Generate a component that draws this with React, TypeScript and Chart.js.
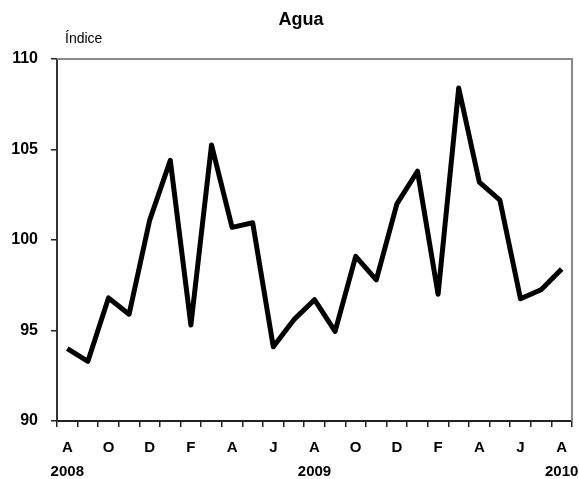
import React, { useEffect, useRef } from "react";
import { Chart, registerables } from "chart.js";

Chart.register(...registerables);

const categories = [
  "A", "S", "O", "N", "D", "E", "F", "M", "A", "M", "J", "J", "A",
  "S", "O", "N", "D", "E", "F", "M", "A", "M", "J", "J", "A",
];
const shownLabels = [0, 2, 4, 6, 8, 10, 12, 14, 16, 18, 20, 22, 24];
const yearLabels: Record<number, string> = { 0: "2008", 12: "2009", 24: "2010" };
const values = [
  94.0, 93.3, 96.8, 95.9, 101.1, 104.4, 95.3, 105.25, 100.7, 100.95, 94.1, 95.6, 96.7,
  94.95, 99.1, 97.8, 102.0, 103.8, 97.0, 108.4, 103.2, 102.2, 96.75, 97.25, 98.4,
];
const titleText = "Agua";
const unitText = "Índice";

const FONT = "'Liberation Sans Narrow', 'Liberation Sans', Arial, sans-serif";

const decorPlugin = {
  id: "decor",
  beforeDatasetsDraw(chart: any) {
    const { ctx, chartArea } = chart;
    ctx.save();
    ctx.strokeStyle = "#8a8a8a";
    ctx.lineWidth = 2;
    ctx.beginPath();
    ctx.moveTo(chartArea.left, chartArea.top);
    ctx.lineTo(chartArea.right, chartArea.top);
    ctx.lineTo(chartArea.right, chartArea.bottom);
    ctx.stroke();
    ctx.restore();
  },
  afterDraw(chart: any) {
    const { ctx } = chart;
    ctx.save();
    ctx.fillStyle = "#000";
    ctx.textBaseline = "middle";
    ctx.textAlign = "center";
    ctx.font = `bold 18px ${FONT}`;
    ctx.fillText(titleText, 301, 20);
    ctx.textAlign = "left";
    ctx.font = `14px ${FONT}`;
    ctx.fillText(unitText, 65, 39);
    ctx.restore();
  },
};

export default function App() {
  const ref = useRef<HTMLCanvasElement>(null);
  useEffect(() => {
    if (!ref.current) return;
    const chart = new Chart(ref.current, {
      type: "line",
      data: {
        labels: categories,
        datasets: [
          {
            data: values,
            borderColor: "#000",
            borderWidth: 5,
            borderJoinStyle: "round",
            pointRadius: 0,
            tension: 0,
            fill: false,
          },
        ],
      },
      options: {
        animation: false,
        responsive: false,
        maintainAspectRatio: false,
        layout: { padding: { top: 59, right: 7, left: 0, bottom: 0 } },
        plugins: { legend: { display: false }, title: { display: false }, tooltip: { enabled: false } },
        scales: {
          x: {
            type: "category",
            offset: true,
            afterFit(scale: any) {
              scale.height = 58;
              scale.paddingLeft = 0;
              scale.paddingRight = 0;
            },
            grid: {
              offset: true,
              drawOnChartArea: false,
              drawTicks: true,
              tickLength: 6,
              color: "#222",
              lineWidth: 1.5,
            },
            border: { color: "#222", width: 2 },
            ticks: {
              autoSkip: false,
              maxRotation: 0,
              padding: 9,
              color: "#000",
              font: { family: FONT, size: 15, weight: "bold", lineHeight: 1.6 },
              callback: (_v: any, i: number) => {
                if (!shownLabels.includes(i)) return "";
                const y = yearLabels[i];
                return y ? [categories[i], y] : categories[i];
              },
            },
          },
          y: {
            min: 90,
            max: 110,
            afterFit(scale: any) {
              scale.width = 57;
              scale.paddingTop = 0;
              scale.paddingBottom = 0;
            },
            grid: {
              drawOnChartArea: false,
              drawTicks: true,
              tickLength: 6,
              color: "#222",
              lineWidth: 1.5,
            },
            border: { color: "#333", width: 2 },
            ticks: {
              stepSize: 5,
              padding: 13,
              color: "#000",
              font: { family: FONT, size: 16, weight: "bold" },
            },
          },
        },
      },
      plugins: [decorPlugin],
    } as any);
    return () => chart.destroy();
  }, []);
  return (
    <div style={{ position: "absolute", left: 0, top: 0, width: 579, height: 479, background: "#fff" }}>
      <canvas ref={ref} width={579} height={479} style={{ width: 579, height: 479 }} />
    </div>
  );
}
